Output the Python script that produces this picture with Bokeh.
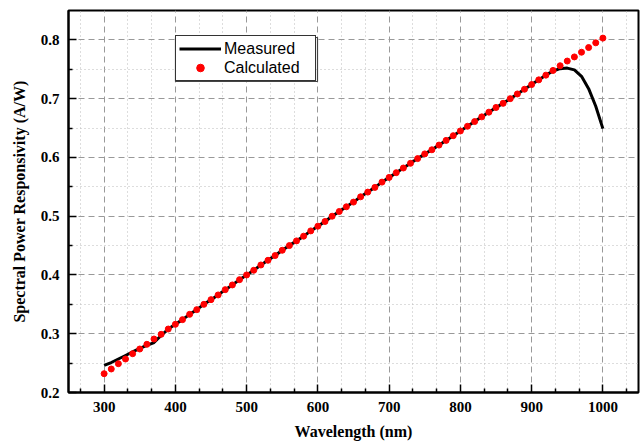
from bokeh.plotting import figure
from bokeh.models import FixedTicker, Range1d, Legend, LegendItem, BoxAnnotation
from bokeh.embed import file_html
from bokeh.resources import INLINE

# ---- data ----
wl_calc = list(range(300, 1001, 10))
calculated = [
    0.232, 0.240, 0.249, 0.257, 0.266, 0.274, 0.282, 0.291, 0.299, 0.308,
    0.316, 0.324, 0.333, 0.341, 0.350, 0.358, 0.366, 0.375, 0.383, 0.392,
    0.400, 0.408, 0.417, 0.425, 0.433, 0.442, 0.450, 0.458, 0.466, 0.475,
    0.483, 0.491, 0.500, 0.508, 0.516, 0.524, 0.533, 0.541, 0.549, 0.558,
    0.566, 0.574, 0.582, 0.590, 0.598, 0.606, 0.613, 0.621, 0.629, 0.637,
    0.645, 0.653, 0.661, 0.669, 0.677, 0.685, 0.692, 0.700, 0.708, 0.716,
    0.724, 0.732, 0.740, 0.748, 0.756, 0.764, 0.771, 0.779, 0.787, 0.795,
    0.803,
]
wl_meas = list(range(300, 1001, 10))
measured = [
    0.246, 0.251, 0.257, 0.263, 0.269, 0.275, 0.280, 0.285, 0.297, 0.308,
    0.316, 0.324, 0.333, 0.341, 0.350, 0.358, 0.366, 0.375, 0.383, 0.392,
    0.400, 0.408, 0.417, 0.425, 0.433, 0.442, 0.450, 0.458, 0.466, 0.475,
    0.483, 0.491, 0.500, 0.508, 0.516, 0.524, 0.533, 0.541, 0.549, 0.558,
    0.566, 0.574, 0.582, 0.590, 0.598, 0.606, 0.613, 0.621, 0.629, 0.637,
    0.645, 0.653, 0.661, 0.669, 0.677, 0.685, 0.692, 0.700, 0.708, 0.716,
    0.724, 0.732, 0.740, 0.747, 0.751, 0.752, 0.749, 0.738, 0.717, 0.687,
    0.649,
]
x_major = [300, 400, 500, 600, 700, 800, 900, 1000]
x_minor = [266.67, 333.33, 366.67, 433.33, 466.67, 533.33, 566.67, 633.33, 666.67,
           733.33, 766.67, 833.33, 866.67, 933.33, 966.67, 1033.33]
y_major = [0.2, 0.3, 0.4, 0.5, 0.6, 0.7, 0.8]
y_minor = [0.25, 0.35, 0.45, 0.55, 0.65, 0.75]

SERIF = "Liberation Serif"
SANS = "Liberation Sans"

p = figure(width=640, height=442, output_backend="svg", toolbar_location=None,
           x_range=Range1d(250, 1050), y_range=Range1d(0.2, 0.85),
           min_border_left=68, min_border_right=2, min_border_top=10, min_border_bottom=50)
p.background_fill_color = "white"
p.border_fill_color = "white"
p.outline_line_color = "black"
p.outline_line_width = 2

p.xaxis.ticker = FixedTicker(ticks=x_major, minor_ticks=x_minor)
p.yaxis.ticker = FixedTicker(ticks=y_major, minor_ticks=y_minor)

for ax in (p.xaxis[0], p.yaxis[0]):
    ax.axis_line_width = 2
    ax.axis_line_color = "black"
    ax.major_tick_in = 8
    ax.major_tick_out = 0
    ax.minor_tick_in = 4
    ax.minor_tick_out = 0
    ax.major_tick_line_width = 1.5
    ax.minor_tick_line_width = 1.5
    ax.major_tick_line_color = "black"
    ax.minor_tick_line_color = "black"
    ax.major_label_text_font = SERIF
    ax.major_label_text_font_style = "bold"
    ax.major_label_text_font_size = "15px"
    ax.major_label_text_color = "black"
    ax.axis_label_text_font = SERIF
    ax.axis_label_text_font_style = "bold"
    ax.axis_label_text_font_size = "16px"
    ax.axis_label_text_color = "black"
    ax.major_label_standoff = 9

p.xaxis.axis_label = "Wavelength (nm)"
p.yaxis.axis_label = "Spectral Power Responsivity (A/W)"
p.xaxis.axis_label_standoff = 8
p.yaxis.axis_label_standoff = 10

for g in (p.xgrid[0], p.ygrid[0]):
    g.grid_line_color = "#999999"
    g.grid_line_dash = "6 4"
    g.grid_line_width = 1
    g.minor_grid_line_color = "#bbbbbb"
    g.minor_grid_line_dash = "1 3"
    g.minor_grid_line_width = 1

r_meas = p.line(wl_meas, measured, line_color="black", line_width=3)
r_calc = p.scatter(wl_calc, calculated, size=6, fill_color="red", line_color="red")

legend = Legend(items=[LegendItem(label="Measured", renderers=[r_meas]),
                       LegendItem(label="Calculated", renderers=[r_calc])],
                location=(107, 311),
                border_line_color="#333333", border_line_width=1, border_line_alpha=1.0)
legend.label_text_font = SANS
legend.label_text_font_size = "16px"
legend.label_text_color = "black"
legend.glyph_width = 42
legend.glyph_height = 19
legend.label_height = 19
legend.label_width = 88
legend.label_standoff = 3
legend.padding = 3
legend.spacing = 0
legend.margin = 0
legend.background_fill_color = "white"
legend.background_fill_alpha = 1
p.add_layout(legend, "center")

# frame drawn around the legend box (screen units relative to the plot frame)
legend_frame = BoxAnnotation(left=107, right=249, bottom=311, top=355,
                             left_units="screen", right_units="screen",
                             bottom_units="screen", top_units="screen",
                             fill_alpha=0, line_color="#444444", line_width=1.2,
                             line_alpha=1, editable=False)
p.add_layout(legend_frame)

open("out.html", "w").write(file_html(p, INLINE))
